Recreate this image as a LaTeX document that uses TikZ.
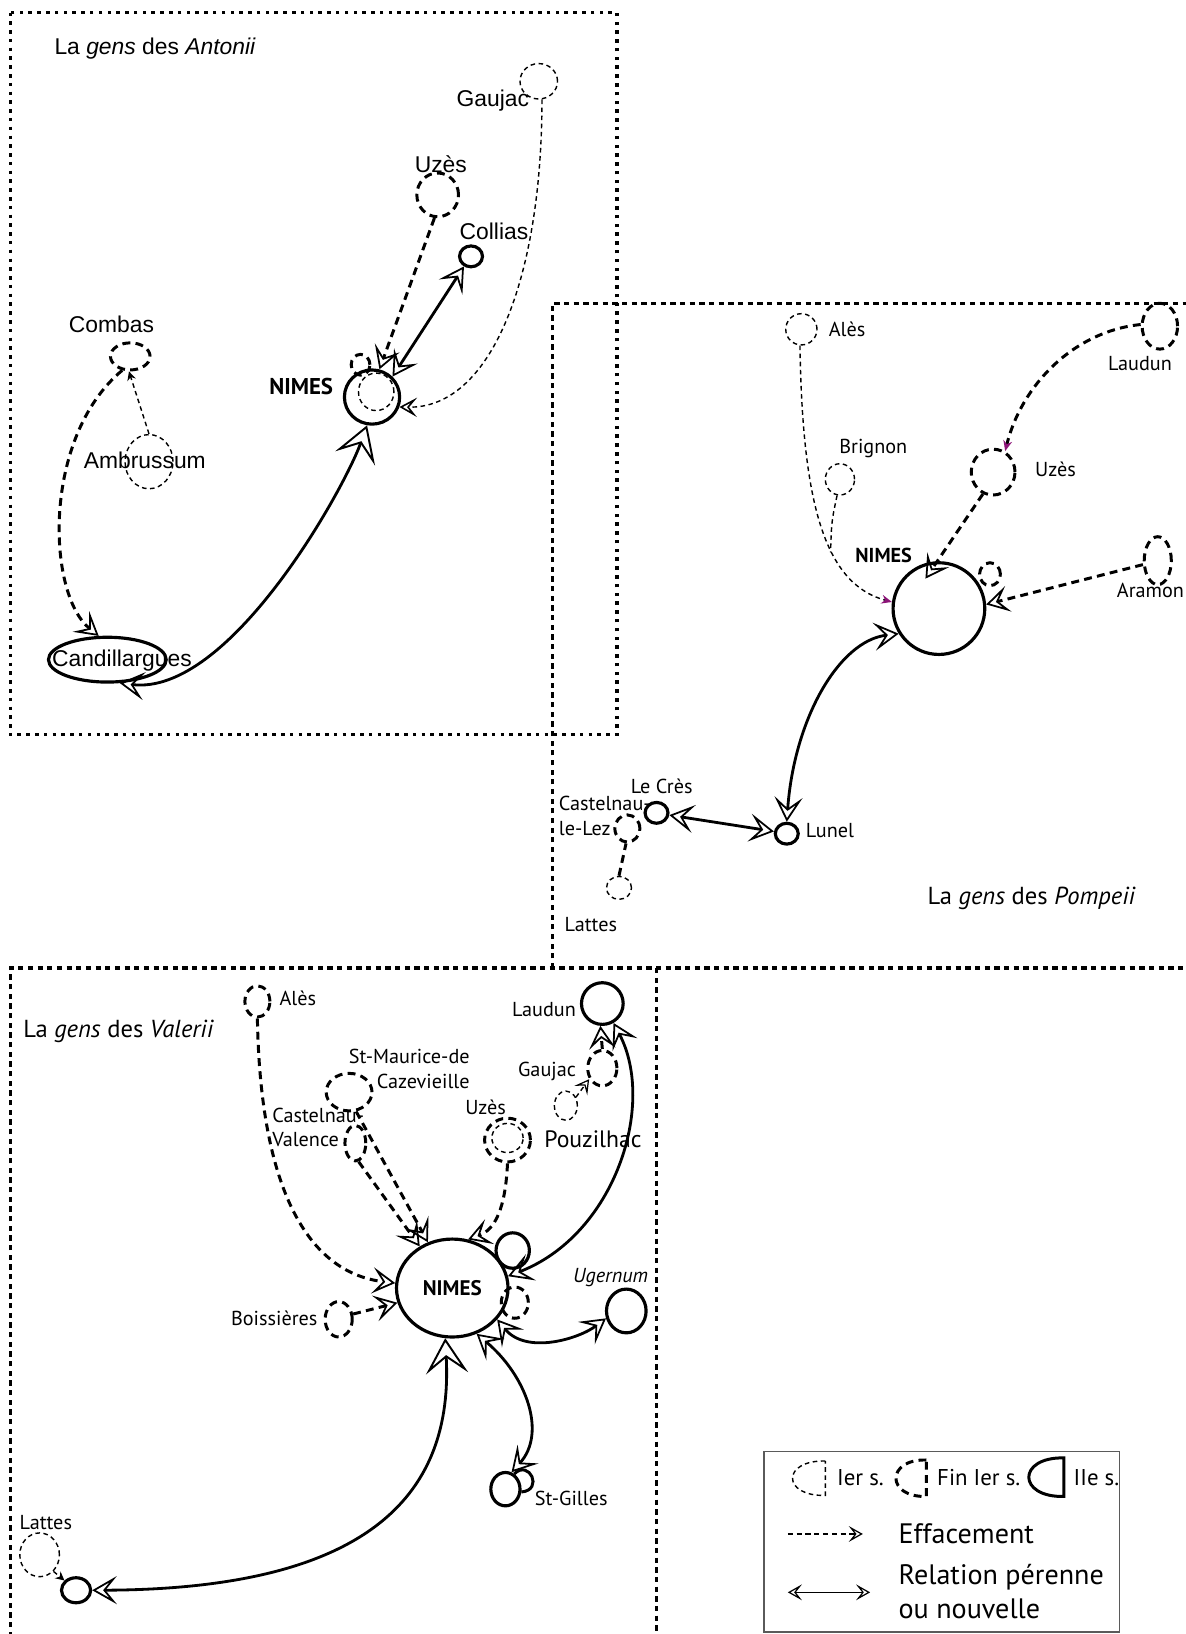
\documentclass[tikz,border=0pt]{standalone}
\usepackage{fontspec}
\setmainfont{PT Sans}
\newfontfamily\arialfont{Liberation Sans}
\usetikzlibrary{shapes.geometric, arrows.meta}
\definecolor{tipviolet}{RGB}{140,20,120}
\definecolor{legendgray}{RGB}{90,90,90}

\begin{document}
\begin{tikzpicture}[x=0.020842cm, y=-0.020842cm,
    sz/.style 2 args={minimum width=#1*0.020842cm, minimum height=#2*0.020842cm},
    early/.style={ellipse, draw, inner sep=0pt, line width=0.8pt, dash pattern=on 2.6pt off 2pt},
    late/.style={ellipse, draw, inner sep=0pt, line width=1.7pt, dash pattern=on 4.5pt off 3pt},
    cent/.style={ellipse, draw, inner sep=0pt, line width=1.8pt},
    thinDash/.style={line width=0.8pt, dash pattern=on 2.6pt off 2pt},
    thickDash/.style={line width=1.7pt, dash pattern=on 4.5pt off 3pt},
    fadethin/.style={thinDash, -{Stealth[open, length=10pt, width=11pt, inset=4.5pt, line width=0.9pt]}},
    fadethick/.style={thickDash, -{Stealth[open, length=13pt, width=15pt, inset=6pt, line width=1pt]}},
    rel/.style={line width=1.6pt, {Stealth[open, length=14pt, width=16pt, inset=6.5pt, line width=1pt]}-{Stealth[open, length=14pt, width=16pt, inset=6.5pt, line width=1pt]}},
    bigstart/.style={{Stealth[open, length=20pt, width=24pt, inset=9pt, line width=1.1pt]}-{Stealth[open, length=14pt, width=16pt, inset=6.5pt, line width=1pt]}},
    smalltip/.style={-{Stealth[length=5pt, width=5pt]}},
    smallopen/.style={-{Stealth[open, length=8pt, width=9pt, inset=3.5pt, line width=0.7pt]}},
    violettip/.style={-{Stealth[length=6pt, width=5pt, color=tipviolet]}},
    zone/.style={line width=2pt, dash pattern=on 2pt off 3pt},
    zoneB/.style={line width=2pt, dash pattern=on 3pt off 2.5pt},
    labA/.style={font=\arialfont\fontsize{13}{15}\selectfont, inner sep=0pt},
    lab/.style={font=\fontsize{11.5}{14}\selectfont, inner sep=0pt},
    gens/.style={font=\fontsize{14}{17}\selectfont, inner sep=0pt},
    leg/.style={font=\fontsize{13}{16}\selectfont, inner sep=0pt, anchor=west},
    legbig/.style={font=\fontsize{16}{19.5}\selectfont, inner sep=0pt, anchor=west}]
    \useasboundingbox (0,0) rectangle (1138,1568);

    \draw[zone] (10,12) rectangle (592,705);
    \draw[zoneB] (530,929) -- (530,291) -- (1150,291);
    \draw[zoneB] (10,1580) -- (10,929) -- (1150,929);
    \draw[zoneB] (630,929) -- (630,1580);

    % Antonii
    \node[labA, anchor=west] (titA) at (52,47) {La \textit{gens} des \textit{Antonii}};
    \node[early, sz={36}{34}] (gauA) at (517,78) {};
    \node[labA] (gauA-t) at (473,97) {Gaujac};
    \node[late, sz={40}{42}] (uzA) at (420,187) {};
    \node[labA] (uzA-t) at (423,158) {Uzès};
    \node[cent, sz={22}{20}] (colA) at (452,246) {};
    \node[labA] (colA-t) at (474,222) {Collias};
    \node[late, sz={38}{26}] (comA) at (125,342) {};
    \node[labA] (comA-t) at (107,311) {Combas};
    \node[early, sz={46}{52}] (ambA) at (143,443) {};
    \node[labA] (ambA-t) at (139,442) {Ambrussum};
    \node[cent, sz={53}{52}] (nimA) at (357,381) {};
    \node[early, sz={34}{36}] (nimAold) at (361,376) {};
    \node[late, sz={18}{20}] (nimAsmall) at (346,350) {};
    \node[font=\bfseries\fontsize{13}{15}\selectfont, inner sep=0pt] (nimA-t) at (289,371) {NIMES};
    \node[cent, sz={113}{43}] (canA) at (103,633) {};
    \node[labA] (canA-t) at (117,634) {Candillargues};

    \draw[fadethick] (uzA.262) -- (nimA.75);
    \draw[rel] (colA.235) -- (nimA.45);
    \draw[fadethin] (gauA.-80) .. controls (520,270) and (470,392) .. (nimA.-20);
    \draw[thinDash, smalltip] (ambA.north) -- (comA.-95);
    \draw[fadethick] (comA.240) .. controls (40,420) and (45,570) .. (canA.110);
    \draw[line width=1.6pt, bigstart] (nimA.-100) .. controls (330,470) and (220,668) .. (canA.-62);

    % Pompeii
    \node[gens] (titP) at (990,862) {La \textit{gens} des \textit{Pompeii}};
    \node[early, sz={30}{30}] (alP) at (769,316) {};
    \node[lab, anchor=west] (alP-t) at (795,316) {Alès};
    \node[late, sz={34}{44}] (lauP) at (1113,313) {};
    \node[lab] (lauP-t) at (1094,349) {Laudun};
    \node[early, sz={28}{30}] (briP) at (806,460) {};
    \node[lab] (briP-t) at (838,430) {Brignon};
    \node[late, sz={42}{44}] (uzP) at (953,453) {};
    \node[lab, anchor=west] (uzP-t) at (993,450) {Uzès};
    \node[cent, sz={88}{88}] (nimP) at (901,584) {};
    \node[font=\bfseries\fontsize{11.5}{14}\selectfont, inner sep=0pt] (nimP-t) at (848,533) {NIMES};
    \node[late, sz={20}{22}] (nimPsmall) at (950,551) {};
    \node[late, sz={26}{46}] (araP) at (1111,538) {};
    \node[lab] (araP-t) at (1104,567) {Aramon};
    \node[cent, sz={22}{20}] (lunP) at (755,800) {};
    \node[lab, anchor=west] (lunP-t) at (773,797) {Lunel};
    \node[cent, sz={22}{20}] (creP) at (630,780) {};
    \node[lab] (creP-t) at (635,755) {Le Crès};
    \node[late, sz={24}{26}] (casP) at (602,795) {};
    \node[lab, anchor=west, align=left] (casP-t) at (536,783) {Castelnau-\\le-Lez};
    \node[early, sz={24}{22}] (latP) at (594,852) {};
    \node[lab] (latP-t) at (567,887) {Lattes};
    \coordinate (joinP) at (797,530);

    \draw[thinDash, violettip] (alP.-95) .. controls (770,480) and (790,560) .. (nimP.172);
    \draw[thinDash] (briP.-100) .. controls (798,500) .. (joinP);
    \draw[thickDash, violettip] (lauP.175) .. controls (1030,318) and (980,370) .. (uzP.60);
    \draw[fadethick, shorten >=-12pt] (uzP.245) -- (nimP.92);
    \draw[fadethick] (araP.195) -- (nimP.5);
    \draw[rel] (nimP.212) .. controls (805,615) and (762,690) .. (lunP.north);
    \draw[rel] (creP.-10) -- (lunP.170);
    \draw[thickDash] (latP.north) -- (casP.-95);

    % Valerii
    \node[gens, anchor=west] (titV) at (22,990) {La \textit{gens} des \textit{Valerii}};
    \node[late, sz={24}{30}] (alV) at (247,961) {};
    \node[lab, anchor=west] (alV-t) at (268,958) {Alès};
    \node[cent, sz={40}{40}] (lauV) at (578,963) {};
    \node[lab, anchor=east] (lauV-t) at (553,969) {Laudun};
    \node[late, sz={44}{36}] (smV) at (335,1048) {};
    \node[lab, anchor=east, align=right] (smV-t) at (451,1026) {St-Maurice-de\\Cazevieille};
    \node[late, sz={28}{34}] (gaV) at (578,1025) {};
    \node[lab, anchor=east] (gaV-t) at (553,1028) {Gaujac};
    \node[early, sz={22}{28}] (pzV) at (543,1061) {};
    \node[font=\fontsize{13.5}{16}\selectfont, inner sep=0pt, anchor=west] (pzV-t) at (522,1093) {Pouzilhac};
    \node[late, sz={44}{42}] (uzV) at (487,1094) {};
    \node[early, sz={30}{28}] (uzVold) at (487,1092) {};
    \node[lab] (uzV-t) at (466,1063) {Uzès};
    \node[late, sz={20}{34}] (cvV) at (341,1097) {};
    \node[lab, anchor=west, align=left] (cvV-t) at (261,1082) {Castelnau-\\Valence};
    \node[cent, sz={107}{94}, font=\bfseries\fontsize{12}{14}\selectfont] (nimV) at (434,1236) {NIMES};
    \node[cent, sz={32}{34}] (nimVsmall) at (492,1200) {};
    \node[late, sz={26}{30}] (nimVold) at (494,1250) {};
    \node[cent, sz={38}{42}] (ugV) at (601,1258) {};
    \node[lab] (ugV-t) at (586,1226) {\itshape Ugernum};
    \node[late, sz={26}{34}] (boV) at (325,1266) {};
    \node[lab, anchor=east] (boV-t) at (305,1265) {Boissières};
    \node[cent, sz={28}{32}] (sgV) at (485,1429) {};
    \node[lab, anchor=west] (sgV-t) at (513,1438) {St-Gilles};
    \node[early, sz={38}{42}] (latV) at (38,1492) {};
    \node[lab] (latV-t) at (44,1461) {Lattes};
    \node[cent, sz={28}{24}] (latV2) at (73,1526) {};

    \draw[fadethick] (alV.south) .. controls (250,1150) and (300,1222) .. (nimV.175);
    \draw[fadethick] (cvV.-80) -- (nimV.128);
    \draw[fadethick] (smV.-70) -- (nimV.118);
    \draw[fadethick] (uzV.south) .. controls (485,1160) and (475,1180) .. (nimV.72);
    \draw[thinDash, smallopen] (pzV.40) -- (gaV.220);
    \draw[fadethick] (gaV.north) -- (lauV.-95);
    \draw[rel] (nimV.12) .. controls (590,1185) and (630,1060) .. (lauV.-60);
    \draw[fadethick] (boV.20) -- (nimV.195);
    \draw[rel] (nimV.-35) .. controls (505,1300) and (555,1285) .. (ugV.200);
    \draw[rel] (nimV.-62) .. controls (505,1320) and (525,1375) .. (sgV.70);
    \draw[line width=1.6pt, bigstart] (nimV.-98) .. controls (435,1430) and (360,1525) .. (latV2.east);
    \draw[thinDash, smalltip] (latV.-50) -- (latV2.140);
    \draw[line width=1.7pt] (sgV.60) .. controls (508,1400) and (522,1430) .. (sgV.-10);

    % legend
    \draw[line width=0.8pt, legendgray] (733,1393) rectangle (1074,1566);
    \draw[thinDash] (792,1402) .. controls (750,1401) and (750,1436) .. (792,1435) -- cycle;
    \draw[thickDash] (889,1401) .. controls (850,1400) and (850,1437) .. (889,1436) -- cycle;
    \draw[line width=1.7pt] (1021,1399) .. controls (976,1398) and (976,1437) .. (1021,1436) -- cycle;
    \node[leg] (legA) at (803,1418) {Ier s.};
    \node[leg] (legB) at (899,1418) {Fin Ier s.};
    \node[leg] (legC) at (1030,1418) {IIe s.};
    \coordinate (effS) at (756,1472);
    \coordinate (effE) at (828,1472);
    \draw[line width=1.1pt, dash pattern=on 3pt off 2pt, smallopen] (effS) -- (effE);
    \node[legbig] (legD) at (862,1472) {Effacement};
    \coordinate (relS) at (756,1528);
    \coordinate (relE) at (835,1528);
    \draw[line width=0.8pt, {Stealth[open, length=8pt, width=9pt, inset=3.5pt, line width=0.7pt]}-{Stealth[open, length=8pt, width=9pt, inset=3.5pt, line width=0.7pt]}] (relS) -- (relE);
    \node[legbig, align=left] (legE) at (862,1527) {Relation pérenne\\ou nouvelle};
\end{tikzpicture}
\end{document}
